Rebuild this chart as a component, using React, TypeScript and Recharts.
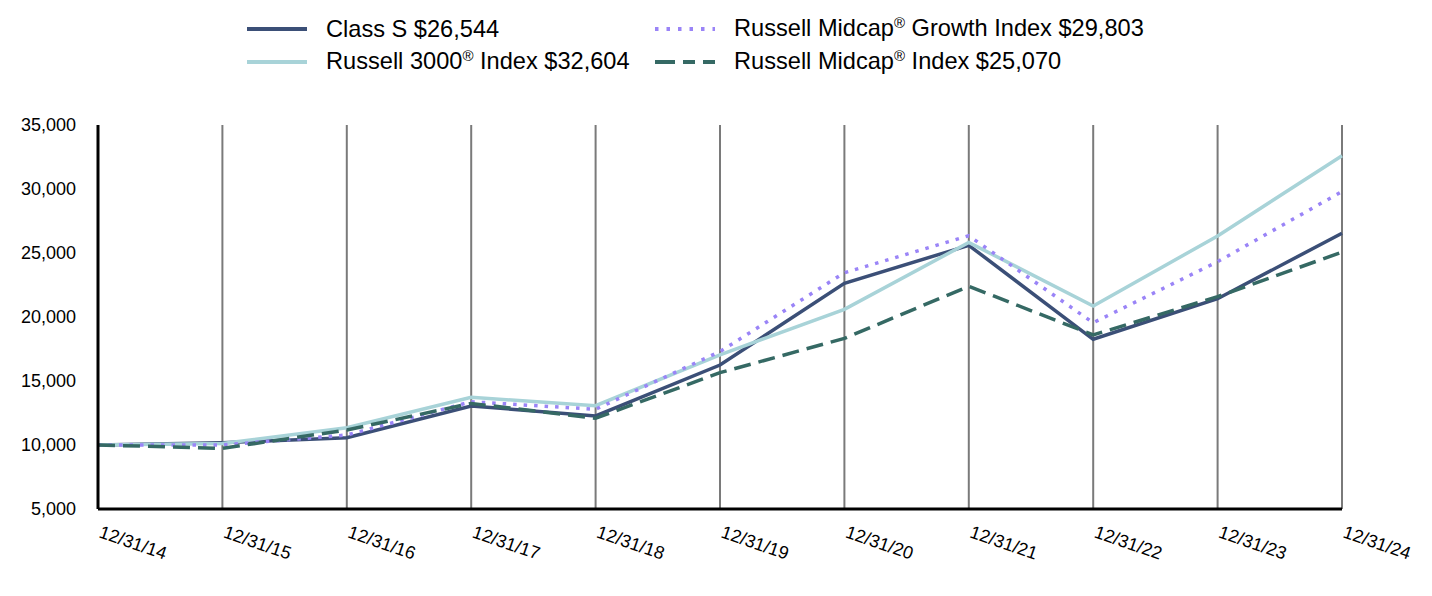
import React from "react";
import { LineChart, Line, XAxis, YAxis, CartesianGrid } from "recharts";

const categories = ["12/31/14", "12/31/15", "12/31/16", "12/31/17", "12/31/18", "12/31/19", "12/31/20", "12/31/21", "12/31/22", "12/31/23", "12/31/24"];
const classS = [10000, 10180, 10570, 13050, 12270, 16250, 22630, 25600, 18260, 21430, 26544];
const russell3000 = [10000, 10120, 11350, 13730, 13070, 17050, 20600, 25830, 20860, 26330, 32604];
const midcapGrowth = [10000, 10000, 10780, 13380, 12790, 17300, 23460, 26350, 19550, 24320, 29803];
const midcap = [10000, 9740, 11170, 13250, 12090, 15650, 18330, 22400, 18600, 21590, 25070];
const yTicks = [5000, 10000, 15000, 20000, 25000, 30000, 35000];

const seriesNames = {
  classS: "Class S $26,544",
  r3000: "Russell 3000® Index $32,604",
  mg: "Russell Midcap® Growth Index $29,803",
  mc: "Russell Midcap® Index $25,070",
};

const data = categories.map((c, i) => ({
  date: c,
  classS: classS[i],
  r3000: russell3000[i],
  mg: midcapGrowth[i],
  mc: midcap[i],
}));

const COLORS = {
  classS: "#3b4f77",
  r3000: "#a8d3d8",
  mg: "#9a84f7",
  mc: "#356964",
};

const FONT = "'Liberation Sans', Arial, sans-serif";

const XTick = (props: any) => {
  const { x, y, payload } = props;
  const ty = y + 10;
  return (
    <text
      x={x}
      y={ty}
      transform={`rotate(19 ${x} ${ty})`}
      textAnchor="start"
      fontSize={18}
      fontFamily={FONT}
      fill="#000"
    >
      {payload.value}
    </text>
  );
};

const Reg = ({ text }: { text: string }) => {
  const parts = text.split("®");
  if (parts.length === 1) return <>{text}</>;
  return (
    <>
      {parts[0]}
      <span style={{ fontSize: 15, position: "relative", top: -8 }}>®</span>
      {parts[1]}
    </>
  );
};

const LegendItem = ({ left, top, color, dash, label }: any) => (
  <div style={{ position: "absolute", left, top, height: 30, display: "flex", alignItems: "center" }}>
    <svg width={60} height={10} style={{ marginRight: 19 }}>
      <line x1={0} y1={5} x2={60} y2={5} stroke={color} strokeWidth={4} strokeDasharray={dash} />
    </svg>
    <span style={{ fontSize: 23.6, fontFamily: FONT, color: "#000", whiteSpace: "nowrap", lineHeight: "30px" }}>
      <Reg text={label} />
    </span>
  </div>
);

const CustomLegend = () => (
  <div style={{ position: "absolute", left: 0, top: 0, width: 1432, height: 100 }}>
    <LegendItem left={247} top={14} color={COLORS.classS} label={seriesNames.classS} />
    <LegendItem left={247} top={47} color={COLORS.r3000} label={seriesNames.r3000} />
    <LegendItem left={655} top={14} color={COLORS.mg} dash="3.5 8" label={seriesNames.mg} />
    <LegendItem left={655} top={47} color={COLORS.mc} dash="20 8 12 8" label={seriesNames.mc} />
  </div>
);

export default function App() {
  return (
    <div style={{ position: "absolute", left: 0, top: 0, width: 1432, height: 596, background: "#fff" }}>
      <LineChart width={1432} height={596} data={data} margin={{ top: 125, right: 90, bottom: 27, left: 0 }}>
        <CartesianGrid horizontal={false} vertical={true} stroke="#7a7a7a" strokeWidth={2} />
        <XAxis
          dataKey="date"
          height={60}
          axisLine={{ stroke: "#000", strokeWidth: 3 }}
          tickLine={false}
          tick={<XTick />}
          tickMargin={12}
          interval={0}
        />
        <YAxis
          width={98}
          domain={[5000, 35000]}
          ticks={yTicks}
          type="number"
          allowDataOverflow
          axisLine={{ stroke: "#000", strokeWidth: 3 }}
          tickLine={false}
          tickSize={6}
          tickMargin={16}
          tickFormatter={(v: number) => v.toLocaleString("en-US")}
          tick={{ fontSize: 18, fontFamily: FONT, fill: "#000" }}
        />
        <Line dataKey="classS" name={seriesNames.classS} stroke={COLORS.classS} strokeWidth={3.5} dot={false} isAnimationActive={false} />
        <Line dataKey="r3000" name={seriesNames.r3000} stroke={COLORS.r3000} strokeWidth={3.5} dot={false} isAnimationActive={false} />
        <Line dataKey="mg" name={seriesNames.mg} stroke={COLORS.mg} strokeWidth={3.5} strokeDasharray="3.5 7" dot={false} isAnimationActive={false} />
        <Line dataKey="mc" name={seriesNames.mc} stroke={COLORS.mc} strokeWidth={3.5} strokeDasharray="17 8" dot={false} isAnimationActive={false} />
      </LineChart>
      <CustomLegend />
    </div>
  );
}
